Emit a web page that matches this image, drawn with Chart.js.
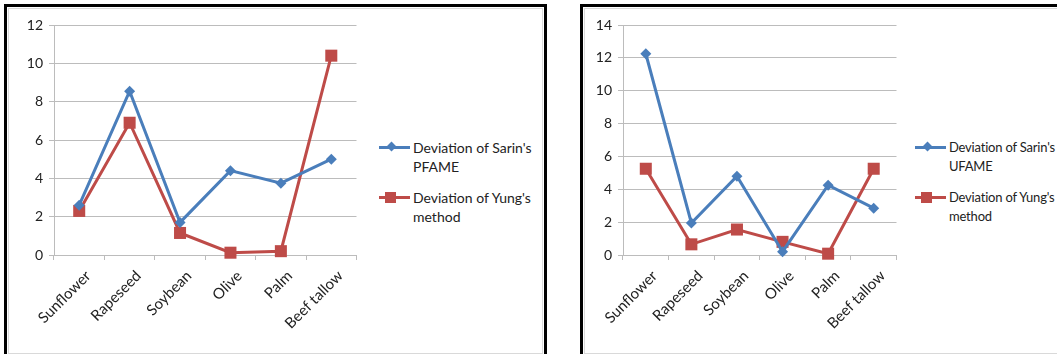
<!DOCTYPE html>
<html>
<head>
	<title>Deviation of PFAME and UFAME</title>
	<script src="https://cdn.jsdelivr.net/npm/chart.js@4.4.1/dist/chart.umd.min.js"></script>
	<style type="text/css">
		body{
			margin: 0;
			width: 1057px;
			height: 354px;
			overflow: hidden;
			background: #fff;
			font-family: 'Lato', sans-serif;
		}
		.box{
			position: absolute;
			top: 4px;
			height: 360px;
			border: 3px solid #000;
			box-sizing: border-box;
		}
		.inner{
			position: absolute;
			left: 1px; top: 1px; right: 1px;
			height: 344px;
			border: 1px solid #d9d9d9;
		}
		canvas{ position: absolute; top: 0; }
		.legend{
			position: absolute;
			font-size: 14px;
			color: #222;
			line-height: 19px;
			white-space: nowrap;
		}
		.item{ position: relative; margin-bottom: 12px; }
		.key{
			position: absolute;
			top: 8px;
			width: 31px;
			height: 3px;
		}
		.mark{ position: absolute; }
	</style>
</head>
<body>
<div class="box" style="left:4px; width:543px;"><div class="inner"></div></div>
<div class="box" style="left:580px; width:490px;"><div class="inner"></div></div>

<canvas id="leftChart" width="357" height="354" style="left:8px"></canvas>
<canvas id="rightChart" width="328" height="354" style="left:577px"></canvas>

<div class="legend" id="leftLegend" style="left:413px; top:138px;"></div>
<div class="legend" id="rightLegend" style="left:949px; top:138px; font-size:13px; letter-spacing:-0.2px;"></div>

<script>
	// oils on the x axis
	const categories = ['Sunflower', 'Rapeseed', 'Soybean', 'Olive', 'Palm', 'Beef tallow'];

	// left chart: PFAME
	const pfameSarin = [2.6, 8.55, 1.7, 4.4, 3.75, 5.0];
	const pfameYung = [2.3, 6.9, 1.15, 0.12, 0.2, 10.4];

	// right chart: UFAME
	const ufameSarin = [12.25, 1.95, 4.8, 0.2, 4.25, 2.85];
	const ufameYung = [5.25, 0.65, 1.55, 0.8, 0.08, 5.25];

	const blue = '#4a7ebb';
	const red = '#be4b48';
	const grid = '#bcbcbc';

	const makeSets = (sarin, yung, sarinLabel) => [
		{
			label: sarinLabel,
			data: sarin,
			borderColor: blue,
			backgroundColor: blue,
			borderWidth: 3,
			pointStyle: 'rectRot',
			pointRadius: 5.5,
			pointBorderWidth: 0,
			tension: 0,
			clip: false
		},
		{
			label: "Deviation of Yung's method",
			data: yung,
			borderColor: red,
			backgroundColor: red,
			borderWidth: 3,
			pointStyle: 'rect',
			pointRadius: 8.5,
			pointBorderWidth: 0,
			tension: 0,
			clip: false
		}
	];

	const makeOptions = (max) => ({
		responsive: false,
		animation: false,
		layout: { padding: { top: 25, right: 8, left: 0, bottom: 0 } },
		plugins: { legend: { display: false }, tooltip: { enabled: false } },
		scales: {
			x: {
				offset: true,
				grid: { offset: true, drawOnChartArea: false, color: grid, tickLength: 5 },
				border: { color: grid, width: 1 },
				ticks: {
					autoSkip: false, minRotation: 45, maxRotation: 45,
					color: '#222', font: { family: 'Lato', size: 15 }, padding: 7, labelOffset: 9
				},
				afterFit: (scale) => { scale.height = 99; }
			},
			y: {
				min: 0, max: max,
				grid: { color: grid, tickLength: 5 },
				border: { color: grid, width: 1 },
				ticks: { stepSize: 2, color: '#222', font: { family: 'Lato', size: 14 }, padding: 6 },
				afterFit: (scale) => { scale.width = 46; }
			}
		}
	});

	new Chart(document.getElementById('leftChart').getContext('2d'), {
		type: 'line',
		data: { labels: categories, datasets: makeSets(pfameSarin, pfameYung, "Deviation of Sarin's PFAME") },
		options: makeOptions(12)
	});

	new Chart(document.getElementById('rightChart').getContext('2d'), {
		type: 'line',
		data: { labels: categories, datasets: makeSets(ufameSarin, ufameYung, "Deviation of Sarin's UFAME") },
		options: makeOptions(14)
	});

	// html legend, line with marker in the middle and wrapped text
	const legendHtml = (lines) => lines.map((l) => {
		const mark = l.diamond
			? '<div class="mark" style="left:-25px;top:5px;width:7px;height:7px;background:' + l.color + ';transform:rotate(45deg)"></div>'
			: '<div class="mark" style="left:-28px;top:4px;width:11px;height:11px;background:' + l.color + '"></div>';
		return '<div class="item"><div class="key" style="left:-34px;background:' + l.color + '"></div>' + mark +
			l.text.join('<br>') + '</div>';
	}).join('');

	document.getElementById('leftLegend').innerHTML = legendHtml([
		{ color: blue, diamond: true, text: ["Deviation of Sarin's", 'PFAME'] },
		{ color: red, diamond: false, text: ["Deviation of Yung's", 'method'] }
	]);
	document.getElementById('rightLegend').innerHTML = legendHtml([
		{ color: blue, diamond: true, text: ["Deviation of Sarin's", 'UFAME'] },
		{ color: red, diamond: false, text: ["Deviation of Yung's", 'method'] }
	]);
</script>
</body>
</html>
